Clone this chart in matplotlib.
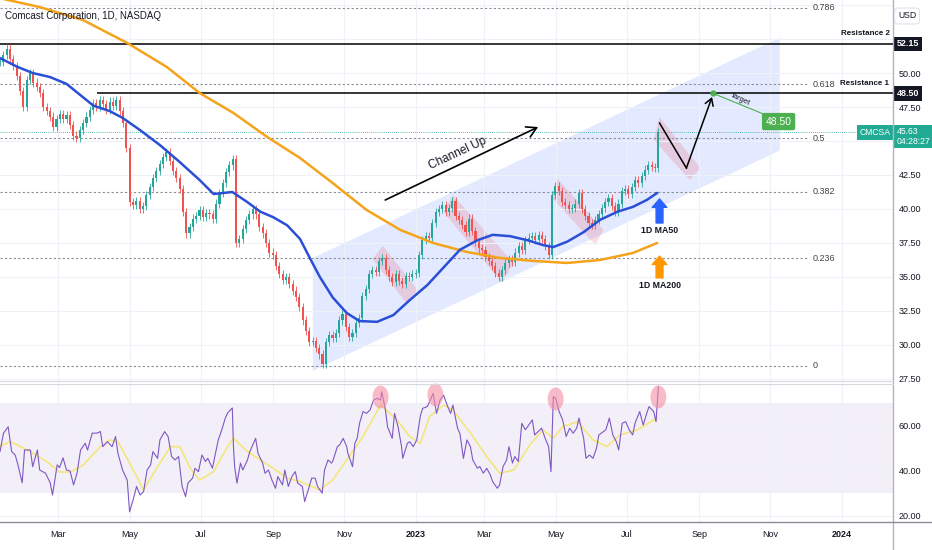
import pandas as pd
import numpy as np
import matplotlib
matplotlib.use("Agg")
import matplotlib.pyplot as plt
import matplotlib.dates as mdates
from matplotlib import font_manager
from matplotlib.patches import Polygon, Ellipse
from matplotlib.lines import Line2D

names = {f.name for f in font_manager.fontManager.ttflist}
main_font = "Liberation Sans Narrow" if "Liberation Sans Narrow" in names else "Liberation Sans"
plt.rcParams["font.family"] = [main_font, "DejaVu Sans"]

start = pd.Timestamp("2022-01-10")
end = pd.Timestamp("2023-07-28")
view_end = pd.Timestamp("2024-02-14")

# daily-ish closes (one every ~2 sessions)
closes = [
    50.8, 51.3, 51.8, 51.0, 50.5, 49.8, 48.7, 47.5, 49.5, 50.0,
    49.3, 49.0, 48.5, 47.5, 47.2, 46.8, 46.0, 46.6, 47.0, 46.6,
    46.9, 46.2, 45.4, 45.2, 45.8, 46.3, 46.8, 47.3, 47.8, 47.5,
    48.0, 47.7, 47.3, 47.9, 47.6, 48.0, 47.2, 46.3, 44.5, 40.5,
    40.3, 40.6, 40.0, 40.2, 41.0, 41.6, 42.3, 42.8, 43.3, 43.8,
    44.2, 43.5, 42.8, 42.3, 41.5, 39.8, 38.2, 38.7, 39.3, 39.5,
    39.9, 39.4, 39.7, 39.6, 39.3, 40.4, 41.2, 41.9, 42.7, 43.2,
    43.7, 37.5, 37.8, 38.5, 39.2, 39.6, 40.0, 39.6, 38.7, 38.2,
    37.5, 36.8, 36.6, 35.8, 35.2, 34.8, 35.0, 34.5, 34.0, 33.5,
    32.8, 31.8, 31.0, 30.2, 30.3, 29.8, 29.3, 28.6, 30.2, 30.7,
    30.5, 30.9, 31.8, 32.3, 31.3, 30.6, 30.9, 31.6, 32.0, 33.6,
    34.1, 35.2, 35.5, 35.4, 36.2, 36.4, 35.5, 35.0, 34.6, 35.2,
    34.7, 34.5, 35.1, 35.0, 35.2, 35.3, 36.6, 37.7, 38.0, 37.9,
    39.0, 39.8, 40.0, 40.3, 39.8, 40.1, 40.6, 39.5, 39.2, 38.8,
    38.3, 39.3, 38.4, 37.6, 37.1, 37.0, 36.5, 36.2, 35.8, 35.3,
    35.0, 35.5, 36.0, 36.3, 36.1, 36.8, 37.3, 37.0, 37.7, 37.9,
    38.0, 37.7, 38.1, 37.8, 37.3, 36.6, 41.0, 41.7, 41.3, 40.5,
    40.3, 40.0, 40.1, 40.4, 41.2, 40.0, 39.5, 39.0, 38.8, 39.2,
    39.6, 40.1, 40.5, 40.8, 40.2, 39.8, 40.4, 41.3, 41.5, 41.1,
    41.6, 42.1, 41.9, 42.4, 42.9, 43.2, 43.1, 43.0, 45.63,
]

# moving averages (days after start, value)
ma50_day = [0, 15, 28, 43, 57, 80, 94, 105, 120, 137, 154, 171, 183, 199, 212, 223, 234, 246, 257, 266,
            274, 285, 297, 308, 323, 337, 351, 366, 380, 394, 409, 422, 437, 452, 465, 474, 486, 500, 514, 529,
            542, 554, 563]
ma50 = [51.1, 50.45, 50.0, 49.7, 49.2, 47.6, 47.2, 46.7, 45.8, 44.7, 43.45, 42.13, 41.1, 41.25, 40.5, 39.8, 39.4, 38.8, 37.8, 36.3,
        35.0, 33.5, 32.35, 31.76, 31.7, 32.2, 33.3, 34.4, 35.7, 37.0, 37.7, 38.1, 38.0, 37.7, 37.35, 37.2, 37.6, 38.3, 39.2, 39.8,
        40.15, 40.66, 41.18]
ma200_day = [0, 34, 71, 109, 143, 171, 200, 229, 257, 285, 314, 343, 371, 400, 428, 457, 486, 514, 542, 563]
ma200 = [55.5, 54.85, 53.9, 52.21, 50.44, 48.53, 47.06, 45.29, 43.75, 41.91, 39.93, 38.46, 37.5, 36.84, 36.4,
         36.18, 36.03, 36.25, 36.76, 37.5]

rsi_day = [0, 3, 7, 10, 13, 15, 19, 21, 26, 28, 32, 34, 39, 43, 45, 49, 51, 54, 57, 60,
           63, 66, 69, 73, 75, 79, 83, 86, 88, 92, 96, 99, 101, 105, 109, 111, 114, 117, 120, 123,
           126, 129, 131, 135, 137, 141, 144, 147, 150, 153, 156, 159, 161, 165, 167, 170, 173, 176, 178, 182,
           184, 187, 190, 193, 195, 199, 200, 201, 203, 206, 208, 212, 214, 219, 221, 225, 227, 230, 233, 236,
           238, 242, 244, 247, 250, 253, 255, 259, 261, 264, 267, 270, 272, 276, 278, 281, 284, 285, 289, 291,
           294, 297, 298, 302, 304, 306, 308, 311, 314, 317, 320, 323, 326, 327, 330, 332, 336, 338, 341, 344,
           345, 349, 351, 354, 357, 360, 362, 366, 368, 371, 374, 377, 380, 383, 386, 388, 392, 394, 397, 400,
           403, 405, 409, 411, 414, 417, 420, 422, 426, 428, 431, 434, 436, 439, 441, 444, 447, 450, 452, 456,
           458, 461, 464, 467, 470, 472, 474, 476, 479, 482, 485, 488, 491, 494, 496, 500, 502, 505, 508, 511,
           513, 517, 519, 522, 525, 528, 530, 533, 536, 539, 542, 544, 548, 551, 554, 556, 560, 562, 564]
rsi = [48.6, 56.8, 59.6, 48.6, 47.1, 43.5, 34.7, 49.3, 49.3, 41.9, 49.3, 40.4, 39.0, 34.7, 29.3, 42.7, 41.5, 45.8, 40.4, 40.0,
       33.8, 39.0, 49.3, 52.3, 49.3, 56.8, 56.8, 57.5, 50.8, 53.0, 50.8, 55.3, 47.9, 40.4, 35.9, 21.8, 27.1, 33.1, 29.3, 30.8,
       40.4, 42.7, 48.6, 45.6, 53.8, 57.5, 55.3, 46.4, 44.9, 46.4, 33.1, 28.6, 34.6, 36.8, 41.2, 39.7, 47.1, 44.2, 45.6, 41.2,
       46.4, 53.8, 58.3, 63.5, 65.8, 68.0, 50.8, 41.9, 34.6, 43.5, 40.4, 44.9, 48.6, 54.5, 47.9, 43.5, 39.0, 40.4, 35.9, 32.3,
       37.5, 33.8, 40.4, 33.1, 37.5, 39.7, 34.6, 33.1, 26.4, 31.4, 36.8, 36.8, 33.1, 30.1, 40.4, 44.9, 43.5, 44.2, 50.8, 51.6,
       54.5, 50.8, 47.9, 41.9, 52.3, 54.5, 61.2, 66.4, 65.6, 67.1, 71.5, 72.3, 71.5, 75.2, 67.8, 59.6, 54.5, 65.6, 59.6, 50.8,
       45.6, 52.3, 53.0, 50.8, 53.8, 64.2, 67.8, 68.6, 70.8, 74.5, 65.6, 71.5, 73.7, 69.3, 65.6, 69.3, 58.9, 56.6, 45.6, 53.8,
       50.8, 44.9, 41.2, 42.0, 39.0, 41.2, 38.2, 35.3, 32.3, 33.8, 42.0, 44.9, 50.8, 43.5, 46.4, 44.2, 61.2, 58.3, 59.7, 62.7,
       56.0, 57.5, 59.0, 54.5, 50.8, 39.7, 73.0, 72.3, 66.4, 62.7, 55.3, 59.0, 56.8, 59.0, 63.5, 54.5, 45.6, 47.1, 45.6, 50.1,
       56.0, 57.5, 58.3, 63.5, 56.0, 53.0, 49.3, 61.2, 61.9, 58.3, 56.0, 61.2, 66.4, 60.4, 65.6, 68.6, 66.4, 61.9, 77.4]
rsi_ma_day = [0, 9, 26, 40, 51, 60, 71, 86, 94, 101, 111, 123, 135, 146, 154, 163, 171, 183, 195, 200,
              212, 223, 234, 246, 257, 274, 285, 297, 311, 326, 340, 351, 360, 368, 380, 388, 403, 417, 428, 440,
              454, 465, 474, 482, 495, 508, 520, 531, 546, 563]
rsi_ma = [51.0, 53.0, 48.6, 44.2, 39.5, 39.5, 42.5, 50.8, 53.8, 53.0, 43.5, 31.6, 41.9, 50.8, 50.8, 41.2, 35.9, 39.7, 50.8, 54.5,
          48.6, 44.9, 41.2, 36.8, 35.3, 31.6, 36.0, 44.9, 55.3, 69.3, 62.7, 55.3, 52.3, 64.2, 69.3, 67.1, 56.8, 46.4, 39.0, 40.4,
          51.6, 58.3, 54.5, 59.7, 61.9, 53.8, 50.8, 56.0, 58.3, 63.5]
rsi_peaks = [("2022-12-02", 72.9), ("2023-01-18", 73.8), ("2023-05-01", 72.0), ("2023-07-28", 72.9)]

fib_ratios = [0, 0.236, 0.382, 0.5, 0.618, 0.786]
fib_low, fib_high = 28.46, 61.98
res1, res2 = 48.50, 52.15
last_price = 45.63
target_price = 48.50

channel_dates = ["2022-10-05", "2023-11-09"]
channel_bottom = [28.1, 44.3]
channel_top = [36.4, 52.6]
pink_boxes = [
    [("2022-12-04", 37.28), ("2023-01-03", 34.04), ("2022-12-24", 33.09), ("2022-11-25", 36.32)],
    [("2023-02-02", 41.03), ("2023-03-26", 36.03), ("2023-03-16", 34.56), ("2023-01-25", 39.78)],
    [("2023-05-02", 42.28), ("2023-06-11", 38.46), ("2023-06-04", 37.35), ("2023-04-27", 40.88)],
    [("2023-07-29", 46.76), ("2023-09-02", 43.01), ("2023-08-24", 42.13), ("2023-07-24", 45.07)],
]
path_dates = ["2023-07-29", "2023-08-21", "2023-09-12"]
path_prices = [46.32, 43.01, 48.24]

month_ticks = pd.date_range("2022-03-01", periods=12, freq="2MS")
month_labels = ["Mar", "May", "Jul", "Sep", "Nov", "2023", "Mar", "May", "Jul", "Sep", "Nov", "2024"]


def dn(s):
    return mdates.date2num(pd.Timestamp(s))


def from_days(lst):
    return dn(start) + np.array(lst, dtype=float)


up_col, down_col = "#26a69a", "#ef5350"
grid_col = "#eef1f7"
txt_col = "#131722"

fig = plt.figure(figsize=(9.32, 5.5), dpi=100)
W, H = 932, 550
ax = fig.add_axes([0, 1 - 381 / H, 893 / W, 381 / H])
axr = fig.add_axes([0, 1 - 522 / H, 893 / W, 139 / H])

for a in (ax, axr):
    a.set_xlim(dn(start), dn(view_end))
    a.set_xticks([mdates.date2num(t) for t in month_ticks])
    a.grid(True, color=grid_col, lw=0.8, zorder=0)
    for s in a.spines.values():
        s.set_visible(False)
    a.yaxis.tick_right()
    a.tick_params(length=0, labelsize=6.5, colors=txt_col, pad=4)
    a.set_facecolor("white")

# ---- price pane ----
ax.set_ylim(27.35, 55.37)
ticks = np.arange(27.5, 55.1, 2.5)
ax.set_yticks(ticks)
ax.set_yticklabels(["" if t in (45.0, 52.5, 55.0) else "%.2f" % t for t in ticks])
ax.set_xticklabels([])

# channel
cx0, cx1 = dn(channel_dates[0]), dn(channel_dates[1])
ax.add_patch(Polygon([(cx0, channel_bottom[0]), (cx1, channel_bottom[1]), (cx1, channel_top[1]), (cx0, channel_top[0])],
                     closed=True, facecolor="#2962ff", alpha=0.13, edgecolor="none", zorder=1))
for box in pink_boxes:
    ax.add_patch(Polygon([(dn(d), p) for d, p in box], closed=True, facecolor="#f23645", alpha=0.17,
                         edgecolor="none", zorder=1.5))

# fib levels
fib_end = dn("2023-12-02")
for r in fib_ratios:
    lvl = fib_low + r * (fib_high - fib_low)
    ax.hlines(lvl, dn(start), fib_end, colors="#8a8d96", linestyles=(0, (2, 2)), lw=0.8, zorder=2)
    ax.text(dn("2023-12-07"), lvl, ("%g" % r), fontsize=6.5, color="#444", va="center", ha="left")

# resistance lines
ax.hlines(res2, dn(start), dn(view_end), colors="black", lw=1.1, zorder=2)
ax.hlines(res1, dn("2022-04-03"), dn(view_end), colors="black", lw=1.1, zorder=2)
ax.text(dn("2024-02-11"), 52.87, "Resistance 2", ha="right", va="center", fontsize=5.8, fontweight="bold", color=txt_col)
ax.text(dn("2024-02-11"), 49.26, "Resistance 1", ha="right", va="center", fontsize=5.8, fontweight="bold", color=txt_col)

# last price line
ax.hlines(last_price, dn(start), dn(view_end), colors=up_col, linestyles=(0, (1, 1.5)), lw=0.6, zorder=2)

# candles
cx = np.linspace(dn(start), dn(end), len(closes))
c = np.array(closes)
o = np.r_[c[0], c[:-1]]
cols = np.where(c >= o, up_col, down_col)
lo = np.minimum(o, c)
hi = np.maximum(o, c)
wick = 0.3
ax.vlines(cx, lo - wick, hi + wick, colors=cols, lw=0.6, zorder=3)
ax.bar(cx, np.maximum(hi - lo, 0.08), bottom=lo, width=1.8, color=cols, lw=0, zorder=3)

# moving averages
ax.plot(from_days(ma200_day), ma200, color="#f5a31a", lw=1.8, zorder=4, solid_capstyle="round")
ax.plot(from_days(ma50_day), ma50, color="#2a4fd6", lw=1.8, zorder=4, solid_capstyle="round")

# channel label + arrow
ax.text(dn("2023-02-06"), 44.12, "Channel Up", rotation=25, rotation_mode="anchor", ha="center", va="center",
        fontsize=8.5, color=txt_col)
ax.annotate("", xy=(dn("2023-04-16"), 46.03), xytext=(dn("2022-12-06"), 40.66),
            arrowprops=dict(arrowstyle="->,head_length=0.7,head_width=0.4", color="black", lw=1.2,
                            shrinkA=0, shrinkB=0))

# projection path
ax.plot([dn(d) for d in path_dates[:2]], path_prices[:2], color="black", lw=1.1, zorder=5)
ax.annotate("", xy=(dn(path_dates[2]), path_prices[2]), xytext=(dn(path_dates[1]), path_prices[1]),
            arrowprops=dict(arrowstyle="->,head_length=0.5,head_width=0.3", color="black", lw=1.1,
                            shrinkA=0, shrinkB=0), zorder=5)

# target
ax.plot([dn("2023-09-13"), dn("2023-10-27")], [target_price, 46.95], color="#4caf50", lw=0.8, zorder=5)
ax.plot(dn("2023-09-13"), target_price, "o", ms=3.5, color="#4caf50", zorder=6)
ax.text(dn("2023-10-06"), 48.05, "Target", rotation=-25, rotation_mode="anchor", ha="center", va="center",
        fontsize=5.5, color=txt_col)
ax.text(dn("2023-11-08"), 46.43, "%.2f" % target_price, ha="center", va="center", fontsize=7.5, color="white",
        bbox=dict(boxstyle="round,pad=0.35,rounding_size=0.2", fc="#4caf50", ec="none"), zorder=6)

# MA labels
ax.annotate("", xy=(dn("2023-07-29"), 40.74), xytext=(dn("2023-07-29"), 38.97),
            arrowprops=dict(arrowstyle="simple,head_length=0.55,head_width=0.95,tail_width=0.45",
                            color="#2962ff", shrinkA=0, shrinkB=0, mutation_scale=11))
ax.text(dn("2023-07-29"), 38.40, "1D MA50", ha="center", va="center", fontsize=6.3, fontweight="bold", color=txt_col)
ax.annotate("", xy=(dn("2023-07-29"), 36.54), xytext=(dn("2023-07-29"), 34.93),
            arrowprops=dict(arrowstyle="simple,head_length=0.55,head_width=0.95,tail_width=0.45",
                            color="#ff9800", shrinkA=0, shrinkB=0, mutation_scale=11))
ax.text(dn("2023-07-29"), 34.38, "1D MA200", ha="center", va="center", fontsize=6.3, fontweight="bold", color=txt_col)

# right-axis price tags
yt = ax.get_yaxis_transform()
for val in (res2, res1):
    ax.text(1.004, val, "%.2f" % val, transform=yt, ha="left", va="center", fontsize=6.5, fontweight="bold",
            color="white", bbox=dict(boxstyle="square,pad=0.3", fc=txt_col, ec="none"), zorder=10)
ax.text(0.997, last_price, "CMCSA", transform=yt, ha="right", va="center", fontsize=6.2, color="white",
        bbox=dict(boxstyle="square,pad=0.3", fc="#22ab94", ec="none"), zorder=10)
ax.text(1.004, 46.05, "%.2f\n04:28:27" % last_price, transform=yt, ha="left", va="top", fontsize=6.2,
        color="white", linespacing=1.15, bbox=dict(boxstyle="square,pad=0.25", fc="#22ab94", ec="none"), zorder=10)

# ---- RSI pane ----
axr.set_ylim(17.3, 79.1)
axr.set_yticks([20, 40, 60])
axr.set_yticklabels(["20.00", "40.00", "60.00"])
axr.axhspan(30, 70, color="#7e57c2", alpha=0.09, zorder=0.5, lw=0)
axr.plot(from_days(rsi_ma_day), rsi_ma, color="#f3e67a", lw=1.2, zorder=2)
axr.plot(from_days(rsi_day), rsi, color="#7e57c2", lw=0.8, zorder=3)
for d, v in rsi_peaks:
    axr.add_patch(Ellipse((dn(d), v), width=13.7, height=10.2, facecolor="#f48fa3", alpha=0.6,
                          edgecolor="none", zorder=4))
axr.set_xticklabels(month_labels)
axr.tick_params(axis="x", pad=6)
for lbl in axr.get_xticklabels():
    if lbl.get_text() in ("2023", "2024"):
        lbl.set_fontweight("bold")

# frame lines
fig.add_artist(Line2D([893 / W, 893 / W], [0, 1], transform=fig.transFigure, color="#b2b5be", lw=1))
fig.add_artist(Line2D([0, 1], [1 - 522 / H] * 2, transform=fig.transFigure, color="#8a8d96", lw=1))
fig.add_artist(Line2D([0, 893 / W], [1 - 381 / H] * 2, transform=fig.transFigure, color="#d6d9e0", lw=0.8))
fig.add_artist(Line2D([0, 893 / W], [1 - 383.5 / H] * 2, transform=fig.transFigure, color="#d6d9e0", lw=0.8))

fig.text(5 / W, 1 - 16 / H, "Comcast Corporation, 1D, NASDAQ", ha="left", va="center", fontsize=7, color=txt_col)
fig.text(907 / W, 1 - 16 / H, "USD", ha="center", va="center", fontsize=6.2, color=txt_col,
         bbox=dict(boxstyle="round,pad=0.4", fc="white", ec="#e0e3eb", lw=0.8))

fig.savefig("out.png", dpi=100)
